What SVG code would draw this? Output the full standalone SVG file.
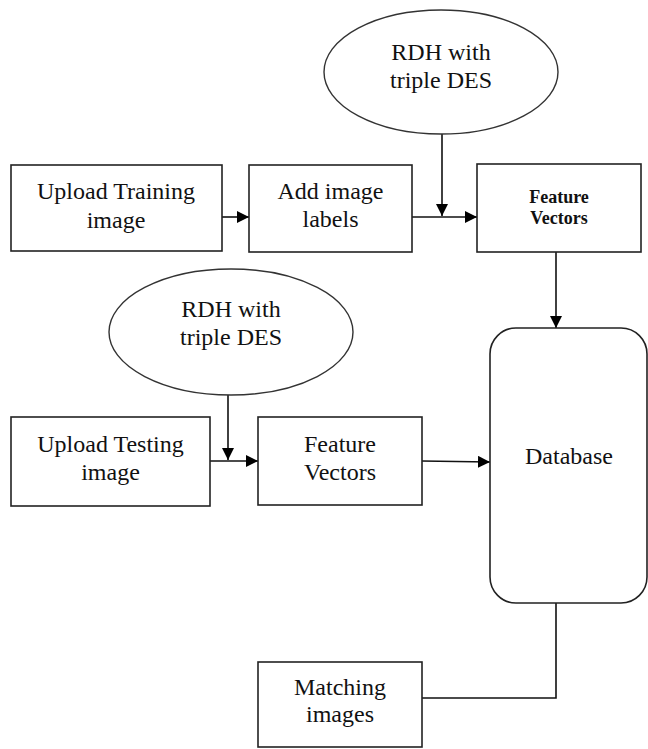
<svg xmlns="http://www.w3.org/2000/svg" width="648" height="749" viewBox="0 0 648 749">
<style>
.box{fill:#fff;stroke:#222;stroke-width:1.6}
.ell{fill:#fff;stroke:#333;stroke-width:1.4}
.t{font-family:"Liberation Serif","Times New Roman",serif;font-size:24px;fill:#111;text-anchor:middle}
.tb{font-family:"Liberation Serif","Times New Roman",serif;font-size:18px;font-weight:bold;fill:#111;text-anchor:middle}
.c{fill:none;stroke:#111;stroke-width:1.6}
</style>
<defs>
<marker id="ah" markerUnits="userSpaceOnUse" markerWidth="13" markerHeight="12" refX="12" refY="6" orient="auto">
<path d="M0,0 L12,6 L0,12 Z" fill="#000"/>
</marker>
</defs>
<g id="connectors">
<line class="c" x1="222" y1="217" x2="249" y2="217" marker-end="url(#ah)"/>
<line class="c" x1="412" y1="217" x2="477" y2="217" marker-end="url(#ah)"/>
<line class="c" x1="442" y1="134" x2="442" y2="216" marker-end="url(#ah)"/>
<line class="c" x1="556" y1="252" x2="556" y2="328" marker-end="url(#ah)"/>
<line class="c" x1="228" y1="395" x2="228" y2="460" marker-end="url(#ah)"/>
<line class="c" x1="210" y1="461" x2="258" y2="461" marker-end="url(#ah)"/>
<line class="c" x1="422" y1="461" x2="490" y2="462" marker-end="url(#ah)"/>
<polyline class="c" points="556,603 556,698 422,698"/>
</g>
<g id="rdh1">
<ellipse class="ell" cx="441" cy="72" rx="117" ry="62"/>
<text class="t" x="441" y="60">RDH with</text>
<text class="t" x="441" y="88">triple DES</text>
</g>
<g id="upload-training">
<rect class="box" x="11" y="165" width="211" height="86"/>
<text class="t" x="116" y="199">Upload Training</text>
<text class="t" x="116" y="228">image</text>
</g>
<g id="add-labels">
<rect class="box" x="249" y="165" width="163" height="87"/>
<text class="t" x="330.5" y="199">Add image</text>
<text class="t" x="330.5" y="227">labels</text>
</g>
<g id="feature-vectors-1">
<rect class="box" x="477" y="164" width="164" height="88"/>
<text class="tb" x="559" y="203">Feature</text>
<text class="tb" x="559" y="224">Vectors</text>
</g>
<g id="rdh2">
<ellipse class="ell" cx="231" cy="332" rx="122" ry="63"/>
<text class="t" x="231" y="317">RDH with</text>
<text class="t" x="231" y="345">triple DES</text>
</g>
<g id="upload-testing">
<rect class="box" x="11" y="417" width="199" height="89"/>
<text class="t" x="110.5" y="452">Upload Testing</text>
<text class="t" x="110.5" y="480">image</text>
</g>
<g id="feature-vectors-2">
<rect class="box" x="258" y="417" width="164" height="88"/>
<text class="t" x="340" y="452">Feature</text>
<text class="t" x="340" y="480">Vectors</text>
</g>
<g id="database">
<rect class="box" x="490" y="328" width="157" height="275" rx="26" ry="26"/>
<text class="t" x="569" y="464">Database</text>
</g>
<g id="matching">
<rect class="box" x="258" y="662" width="164" height="85"/>
<text class="t" x="340" y="695">Matching</text>
<text class="t" x="340" y="722">images</text>
</g>
</svg>
